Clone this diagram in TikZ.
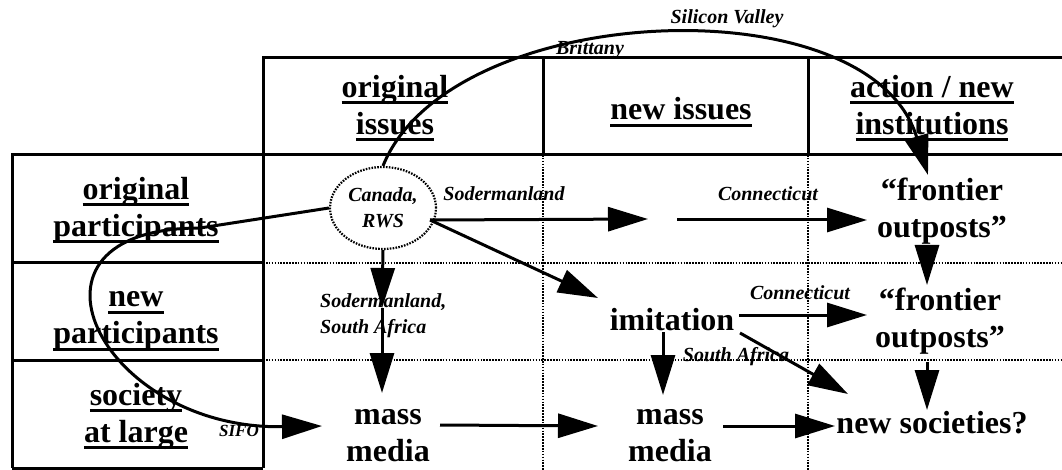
\documentclass[tikz,border=0pt]{standalone}
\usepackage{fontspec}
\setmainfont{Liberation Serif}
\usetikzlibrary{arrows.meta,shapes.geometric}
\newcommand\ulx[1]{\setbox0\hbox{#1}\rlap{\vrule width\wd0 height -4pt depth 7pt}\box0}
\tikzset{
  big/.style={font=\fontsize{32}{37}\selectfont\bfseries, align=center, inner sep=0pt},
  lab/.style={font=\fontsize{20}{26}\selectfont\bfseries\itshape, inner sep=0pt},
  gridline/.style={line width=3pt},
  dots/.style={line width=2.2pt, dash pattern=on 1.6pt off 1.3pt},
  arr/.style={line width=3pt, -{Triangle[length=40pt,width=24pt]}},
}
\begin{document}
\begin{tikzpicture}[x=1pt,y=-1pt]
\useasboundingbox (0,0) rectangle (1062,470);
% grid
\draw[gridline] (263,468) -- (263,58) -- (1062,58);
\draw[gridline] (543,58) -- (543,155);
\draw[gridline] (808,58) -- (808,155);
\draw[gridline] (12,468) -- (12,155) -- (1062,155);
\draw[gridline] (12,263) -- (263,263);
\draw[gridline] (12,360) -- (263,360);
\draw[gridline] (12,468) -- (263,468);
\draw[dots] (263,263) -- (1062,263);
\draw[dots] (263,360) -- (1062,360);
\draw[dots] (543,155) -- (543,470);
\draw[dots] (808,155) -- (808,470);
% headers
\node[big] (h1) at (395,108) {\ulx{original}\\\ulx{issues}};
\node[big] (h2) at (681,112) {\ulx{new issues}};
\node[big] (h3) at (932,108) {\ulx{action / new}\\\ulx{institutions}};
\node[big] (r1) at (136,210) {\ulx{original}\\\ulx{participants}};
\node[big] (r2) at (136,321) {\ulx{new}\\\ulx{participants}};
\node[big] (r3) at (136,416) {\ulx{society}\\\ulx{at large}};
% content
\node[draw, dots, ellipse, minimum width=106pt, minimum height=82pt, lab, align=center] (ell) at (383,208) {Canada,\\RWS};
\node[big] (fo1) at (942,211) {“frontier\\outposts”};
\node[big] (fo2) at (940,321) {“frontier\\outposts”};
\node[big] (imi) at (672,320) {imitation};
\node[big] (mm1) at (388,436) {mass\\media};
\node[big] (mm2) at (670,436) {mass\\media};
\node[big] (ns) at (932,423) {new societies?};
% labels
\node[lab] (lsv) at (727,19) {Silicon Valley};
\node[lab] (lbr) at (590,50) {Brittany};
\node[lab] (lsod) at (504,194) {Sodermanland};
\node[lab] (lct1) at (768,194) {Connecticut};
\node[lab] (lct2) at (800,293) {Connecticut};
\node[lab, align=left, anchor=west] (lssa) at (320,316) {Sodermanland,\\South Africa};
\node[lab] (lsa) at (736,357) {South Africa};
\node[lab, font=\fontsize{17}{20}\selectfont\bfseries\itshape] (lsifo) at (239,431) {SIFO};
% coordinates
\coordinate (arcend) at (928,175);
\coordinate (ni) at (648,219);
\coordinate (ni2) at (677,220);
\coordinate (fo1in) at (867,220);
\coordinate (ellr) at (430,220);
\coordinate (imiin) at (598,298);
\coordinate (ssa) at (382,308);
\coordinate (mm1in) at (382,393);
\coordinate (sifoin) at (322,426);
\coordinate (mm1out) at (440,425);
\coordinate (mm2in) at (598,426);
\coordinate (mm2out) at (723,426);
\coordinate (nsin) at (835,426);
\coordinate (imidown) at (663,332);
\coordinate (mm2top) at (663,395);
\coordinate (imir) at (739,315);
\coordinate (fo2in) at (867,315);
\coordinate (imid) at (740,333);
\coordinate (nsdiag) at (848,394);
\coordinate (fo1out) at (927,245);
\coordinate (fo2top) at (927,285);
\coordinate (fo2out) at (927,362);
\coordinate (nstop) at (927,410);
\coordinate (partpt) at (200,228);
% connectors
\draw[arr] (ell.north) .. controls (450,0) and (870,-18) .. (arcend);
\draw[arr] (ellr) -- (ni);
\draw[arr] (ni2) -- (fo1in);
\draw[arr] (ellr) -- (imiin);
\draw[arr] (ell.south) -- (ssa);
\draw[arr] (ssa) -- (mm1in);
\draw[arr] (ell.west) -- (partpt) .. controls (0,228) and (100,430) .. (sifoin);
\draw[arr] (mm1out) -- (mm2in);
\draw[arr] (mm2out) -- (nsin);
\draw[arr] (imidown) -- (mm2top);
\draw[arr] (imir) -- (fo2in);
\draw[arr] (imid) -- (nsdiag);
\draw[arr] (fo1out) -- (fo2top);
\draw[arr] (fo2out) -- (nstop);
\end{tikzpicture}
\end{document}
